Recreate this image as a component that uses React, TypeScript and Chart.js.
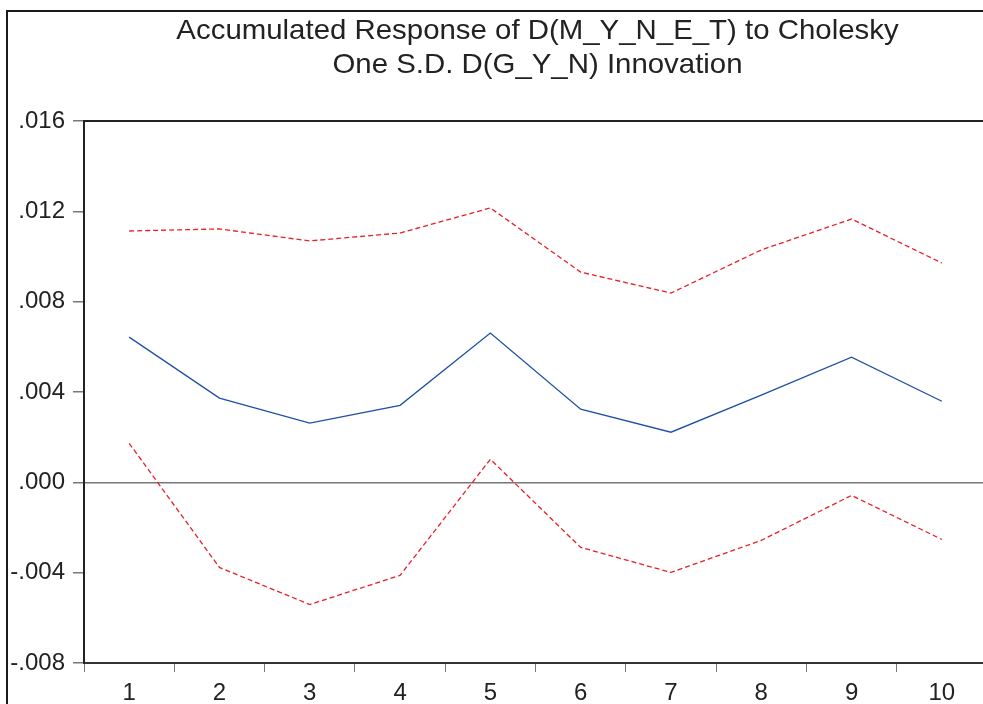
import React, { useEffect, useRef } from "react";
import { Chart, registerables } from "chart.js";

Chart.register(...registerables);

const periods = ["1", "2", "3", "4", "5", "6", "7", "8", "9", "10"];
const response = [0.00643, 0.00373, 0.00262, 0.00341, 0.00661, 0.00324, 0.00222, 0.00386, 0.00554, 0.00359];
const upperBand = [0.01113, 0.01122, 0.01069, 0.01104, 0.01215, 0.00931, 0.00838, 0.01029, 0.01166, 0.00971];
const lowerBand = [0.00173, -0.00377, -0.00541, -0.00412, 0.00102, -0.00288, -0.00399, -0.00257, -0.00058, -0.00253];
const titleLines = ["Accumulated Response of D(M_Y_N_E_T) to Cholesky", "One S.D. D(G_Y_N) Innovation"];

const FONT = "'Liberation Sans', Arial, sans-serif";

const fmt = (v: number) => {
  const s = Math.abs(v).toFixed(3).replace(/^0/, "");
  return (v < 0 ? "-" : "") + s;
};

const framePlugin = {
  id: "frameAndTitle",
  afterDraw(chart: any) {
    const { ctx, chartArea } = chart;
    ctx.save();
    // outer frame
    ctx.strokeStyle = "#1a1a1a";
    ctx.lineWidth = 2;
    ctx.beginPath();
    ctx.moveTo(7, 704);
    ctx.lineTo(7, 11);
    ctx.lineTo(chart.width, 11);
    ctx.stroke();
    // top border of plot
    ctx.strokeStyle = "#222";
    ctx.lineWidth = 2;
    ctx.beginPath();
    ctx.moveTo(chartArea.left - 1, chartArea.top);
    ctx.lineTo(chartArea.right, chartArea.top);
    ctx.stroke();
    // two-line title, slightly widened
    ctx.fillStyle = "#222";
    ctx.font = `28px ${FONT}`;
    ctx.textAlign = "center";
    ctx.textBaseline = "alphabetic";
    const cx = (chartArea.left + chartArea.right) / 2 + 2;
    const sx = 1.05;
    ctx.translate(cx, 0);
    ctx.scale(sx, 1);
    ctx.fillText(titleLines[0], 0, 39);
    ctx.fillText(titleLines[1], 0, 73);
    ctx.restore();
  },
};

export default function App() {
  const ref = useRef<HTMLCanvasElement>(null);
  useEffect(() => {
    document.body.style.margin = "0";
    document.body.style.overflow = "hidden";
    const chart = new Chart(ref.current!, {
      type: "line",
      data: {
        labels: periods,
        datasets: [
          {
            data: upperBand,
            borderColor: "rgb(232,30,40)",
            borderWidth: 1.3,
            borderDash: [5, 3],
            pointRadius: 0,
            fill: false,
          },
          {
            data: response,
            borderColor: "rgb(30,80,165)",
            borderWidth: 1.3,
            pointRadius: 0,
            fill: false,
          },
          {
            data: lowerBand,
            borderColor: "rgb(232,30,40)",
            borderWidth: 1.3,
            borderDash: [5, 3],
            pointRadius: 0,
            fill: false,
          },
        ],
      },
      options: {
        animation: false,
        responsive: false,
        events: [],
        layout: { padding: { left: 0, right: 3, top: 121, bottom: 0 } },
        plugins: { legend: { display: false }, title: { display: false }, tooltip: { enabled: false } },
        scales: {
          x: {
            offset: true,
            grid: {
              offset: true,
              drawOnChartArea: false,
              drawTicks: true,
              tickLength: 9,
              tickColor: "#777",
            },
            border: { color: "#333", width: 2 },
            ticks: {
              color: "#222",
              font: { family: FONT, size: 24 },
              padding: 7,
              maxRotation: 0,
              autoSkip: false,
            },
            afterFit(scale: any) {
              scale.height = 41;
            },
          },
          y: {
            min: -0.008,
            max: 0.016,
            ticks: {
              stepSize: 0.004,
              color: "#222",
              font: { family: FONT, size: 24 },
              padding: 8,
              callback: (v: any) => fmt(Number(v)),
            },
            grid: {
              color: (c: any) => (c.tick && Math.abs(c.tick.value) < 1e-9 ? "#777" : "rgba(0,0,0,0)"),
              lineWidth: 1.5,
              tickColor: "#777",
              tickLength: 11,
              drawTicks: true,
            },
            border: { color: "#222", width: 2 },
            afterFit(scale: any) {
              scale.width = 84;
            },
          },
        },
      },
      plugins: [framePlugin],
    });
    return () => chart.destroy();
  }, []);
  return (
    <div style={{ width: 990, height: 704, overflow: "hidden" }}>
      <canvas ref={ref} width={990} height={704} style={{ display: "block" }} />
    </div>
  );
}
